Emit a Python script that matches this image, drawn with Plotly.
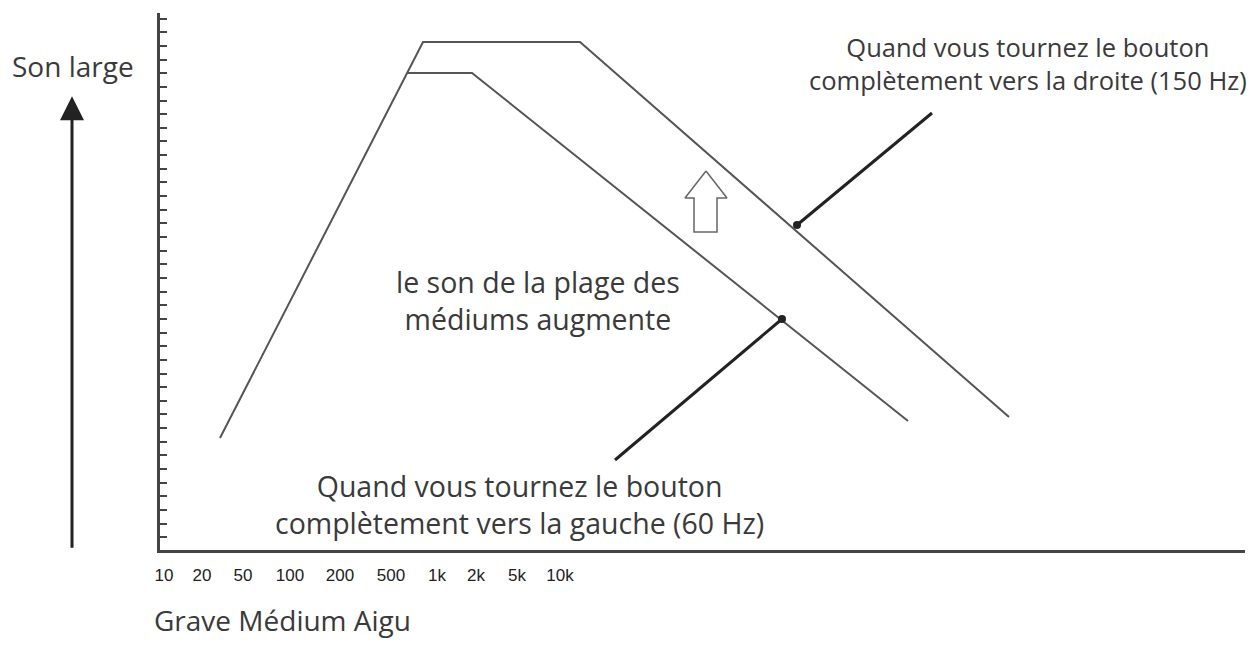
import plotly.graph_objects as go

# Frequency axis labels and their positions along the horizontal axis
freq_labels = ["10", "20", "50", "100", "200", "500", "1k", "2k", "5k", "10k"]
freq_pos = [4, 42, 83, 130, 180, 231, 277, 316, 357, 400]

# Response curves (axis units), knob fully right (150 Hz) and fully left (60 Hz)
right_x = [60, 263, 420, 849]
right_y = [112, 508, 508, 133]
left_x = [247, 312, 748]
left_y = [477, 477, 129]

# Leader lines from each curve to its caption
right_leader_x = [637, 772]
right_leader_y = [325, 437]
left_leader_x = [622, 455]
left_leader_y = [231, 90]

# Hollow "increase" arrow between the two curves
boost_x = [546, 567, 557, 557, 534, 534, 525, 546]
boost_y = [379, 352, 352, 318, 318, 352, 352, 379]

GREY = "#555555"
INK = "#222222"
TXT = "#3a3a3a"
FONT = "Open Sans"

fig = go.Figure()

fig.add_trace(go.Scatter(x=right_x, y=right_y, mode="lines",
                         line=dict(color=GREY, width=2)))
fig.add_trace(go.Scatter(x=left_x, y=left_y, mode="lines",
                         line=dict(color=GREY, width=2)))

# leaders with a dot on the curve end
for lx, ly in [(right_leader_x, right_leader_y), (left_leader_x, left_leader_y)]:
    fig.add_trace(go.Scatter(x=lx, y=ly, mode="lines",
                             line=dict(color=INK, width=3)))
    fig.add_trace(go.Scatter(x=lx[:1], y=ly[:1], mode="markers",
                             marker=dict(color=INK, size=8)))

fig.add_trace(go.Scatter(x=boost_x, y=boost_y, mode="lines",
                         line=dict(color="#666666", width=1.5)))

# captions
fig.add_annotation(x=868, y=487, xref="x", yref="y", showarrow=False,
                   xanchor="center", yanchor="middle",
                   text="Quand vous tournez le bouton<br>complètement vers la droite (150 Hz)",
                   font=dict(family=FONT, size=25.5, color=TXT))
fig.add_annotation(x=378, y=250, xref="x", yref="y", showarrow=False,
                   xanchor="center", yanchor="middle",
                   text="le son de la plage des<br>médiums augmente",
                   font=dict(family=FONT, size=28.5, color=TXT))
fig.add_annotation(x=359, y=46, xref="x", yref="y", showarrow=False,
                   xanchor="center", yanchor="middle",
                   text="Quand vous tournez le bouton<br>complètement vers la gauche (60 Hz)",
                   font=dict(family=FONT, size=28.5, color=TXT))

# outside the plot: y label with arrow, and x caption
fig.add_annotation(x=-0.0802, y=0.901, xref="paper", yref="paper", showarrow=False,
                   xanchor="center", yanchor="middle",
                   text="Son large", font=dict(family=FONT, size=28, color=TXT))
fig.add_annotation(x=-0.0811, y=0.845, xref="paper", yref="paper",
                   ax=0, ay=453, axref="pixel", ayref="pixel",
                   text="", showarrow=True, arrowhead=2, arrowsize=1.6,
                   arrowwidth=3, arrowcolor=INK)
fig.add_annotation(x=-0.0074, y=-0.13, xref="paper", yref="paper",
                   showarrow=False, xanchor="left", yanchor="middle",
                   text="Grave Médium Aigu",
                   font=dict(family=FONT, size=28, color=TXT))

fig.update_layout(
    width=1251, height=643,
    margin=dict(l=152, r=14, t=5, b=101),
    plot_bgcolor="white", paper_bgcolor="white",
    showlegend=False,
    xaxis=dict(range=[0, 1085], tickvals=freq_pos, ticktext=freq_labels,
               showgrid=False, zeroline=False, showline=True,
               linecolor="#444444", linewidth=2.5, ticks="",
               ticklabelstandoff=8,
               tickfont=dict(family="Liberation Sans", size=17, color=INK)),
    yaxis=dict(range=[0, 537], tick0=12.7, dtick=13.65,
               showgrid=False, zeroline=False, showline=True,
               linecolor="#444444", linewidth=2.5,
               ticks="inside", ticklen=7, tickwidth=2, tickcolor="#444444",
               showticklabels=False),
)

fig.write_html("out.html")
